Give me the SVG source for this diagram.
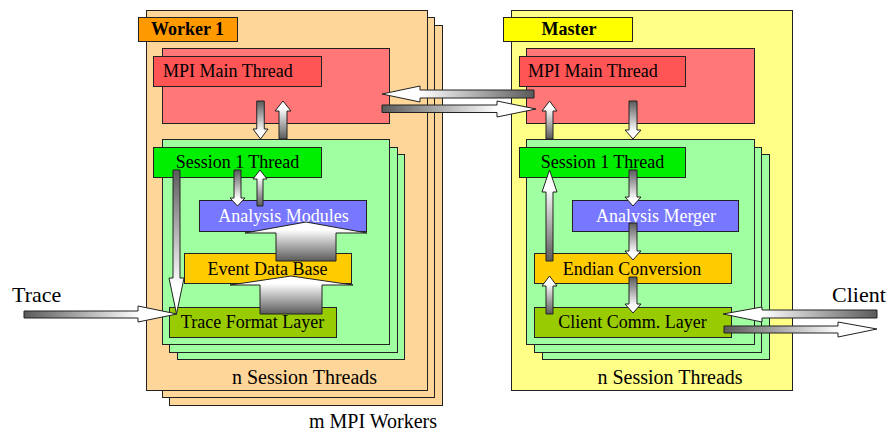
<svg xmlns="http://www.w3.org/2000/svg" width="887" height="432" viewBox="0 0 887 432">
<style>
text{font-family:"Liberation Serif","Times New Roman","DejaVu Serif","Noto Serif",serif;fill:#000}
.t{font-size:18px}
.tb{font-size:18px;font-weight:bold}
.tl{font-size:20px}
.tx{font-size:22px}
.w{fill:#fff}
.bx{stroke:#222;stroke-width:1}
.ar{stroke:#222;stroke-width:1;stroke-linejoin:miter}
.dn{fill:url(#gDown)}.up{fill:url(#gUp)}.rt{fill:url(#gRight)}.lt{fill:url(#gLeft)}
</style>
<defs>
<linearGradient id="gDown" x1="0" y1="0" x2="0" y2="1"><stop offset="0" stop-color="#5a5a5a"/><stop offset="0.8" stop-color="#fff"/></linearGradient>
<linearGradient id="gUp" x1="0" y1="1" x2="0" y2="0"><stop offset="0" stop-color="#5a5a5a"/><stop offset="0.8" stop-color="#fff"/></linearGradient>
<linearGradient id="gRight" x1="0" y1="0" x2="1" y2="0"><stop offset="0" stop-color="#5a5a5a"/><stop offset="0.75" stop-color="#fff"/></linearGradient>
<linearGradient id="gLeft" x1="1" y1="0" x2="0" y2="0"><stop offset="0" stop-color="#5a5a5a"/><stop offset="0.75" stop-color="#fff"/></linearGradient>
</defs>

<g id="worker">
<rect class="bx" x="169.5" y="25.5" width="273" height="380" fill="#ffd699"/>
<rect class="bx" x="162.5" y="17.5" width="272" height="380" fill="#ffd699"/>
<rect class="bx" x="146.5" y="10.5" width="281" height="380" fill="#ffd699"/>
<rect class="bx" x="138.5" y="17.5" width="99" height="24" fill="#ff9900"/>
<text class="tb" x="187.5" y="35" text-anchor="middle" font-family="Liberation Serif, serif">Worker 1</text>
<text class="tl" x="304.5" y="384" text-anchor="middle" font-family="Liberation Serif, serif">n Session Threads</text>
</g>
<g id="worker-mpi">
<rect class="bx" x="162.5" y="48.5" width="227" height="75" fill="#ff7777"/>
<rect class="bx" x="153.5" y="56.5" width="168" height="30" fill="#ff5555"/>
<text class="t" x="163" y="77" font-family="Liberation Serif, serif">MPI Main Thread</text>
</g>
<g id="worker-sessions">
<rect class="bx" x="177.5" y="154.5" width="227" height="205" fill="#a0ffa0"/>
<rect class="bx" x="169.5" y="147.5" width="228" height="205" fill="#a0ffa0"/>
<rect class="bx" x="162.5" y="139.5" width="227" height="205" fill="#a0ffa0"/>
</g>
<g id="worker-session1">
<rect class="bx" x="153.5" y="147.5" width="168" height="30" fill="#00ee00"/>
<text class="t" x="237.5" y="168" text-anchor="middle" font-family="Liberation Serif, serif">Session 1 Thread</text>
</g>
<g id="analysis-modules">
<rect class="bx" x="199.5" y="200.5" width="167" height="31" fill="#7777ff"/>
<text class="t w" x="283.5" y="222" text-anchor="middle" font-family="Liberation Serif, serif">Analysis Modules</text>
</g>
<g id="event-data-base">
<rect class="bx" x="184.5" y="253.5" width="167" height="30" fill="#ffcc00"/>
<text class="t" x="267.5" y="275" text-anchor="middle" font-family="Liberation Serif, serif">Event Data Base</text>
</g>
<g id="trace-format-layer">
<rect class="bx" x="169.5" y="307.5" width="167" height="30" fill="#99cc00"/>
<text class="t" x="252.5" y="328" text-anchor="middle" font-family="Liberation Serif, serif">Trace Format Layer</text>
</g>
<text class="tl" x="373" y="428" text-anchor="middle" font-family="Liberation Serif, serif">m MPI Workers</text>

<g id="master">
<rect class="bx" x="511.5" y="10.5" width="281" height="380" fill="#ffff88"/>
<rect class="bx" x="503.5" y="17.5" width="129" height="24" fill="#ffff00"/>
<text class="tb" x="569" y="35" text-anchor="middle" font-family="Liberation Serif, serif">Master</text>
<text class="tl" x="670" y="384" text-anchor="middle" font-family="Liberation Serif, serif">n Session Threads</text>
</g>
<g id="master-mpi">
<rect class="bx" x="526.5" y="48.5" width="228" height="75" fill="#ff7777"/>
<rect class="bx" x="519.5" y="56.5" width="166" height="30" fill="#ff5555"/>
<text class="t" x="528" y="77" font-family="Liberation Serif, serif">MPI Main Thread</text>
</g>
<g id="master-sessions">
<rect class="bx" x="542.5" y="154.5" width="227" height="205" fill="#a0ffa0"/>
<rect class="bx" x="534.5" y="147.5" width="227" height="205" fill="#a0ffa0"/>
<rect class="bx" x="526.5" y="139.5" width="228" height="205" fill="#a0ffa0"/>
</g>
<g id="master-session1">
<rect class="bx" x="519.5" y="147.5" width="166" height="30" fill="#00ee00"/>
<text class="t" x="602.5" y="168" text-anchor="middle" font-family="Liberation Serif, serif">Session 1 Thread</text>
</g>
<g id="analysis-merger">
<rect class="bx" x="572.5" y="200.5" width="166" height="31" fill="#7777ff"/>
<text class="t w" x="656" y="222" text-anchor="middle" font-family="Liberation Serif, serif">Analysis Merger</text>
</g>
<g id="endian-conversion">
<rect class="bx" x="534.5" y="253.5" width="197" height="30" fill="#ffcc00"/>
<text class="t" x="632" y="275" text-anchor="middle" font-family="Liberation Serif, serif">Endian Conversion</text>
</g>
<g id="client-comm-layer">
<rect class="bx" x="534.5" y="307.5" width="197" height="30" fill="#99cc00"/>
<text class="t" x="632.5" y="328" text-anchor="middle" font-family="Liberation Serif, serif">Client Comm. Layer</text>
</g>

<g id="labels">
<text class="tx" x="12" y="302" font-family="Liberation Serif, serif">Trace</text>
<text class="tx" x="832" y="302" font-family="Liberation Serif, serif">Client</text>
</g>

<g id="connectors">
<polygon class="ar dn" points="256.75,101 264.25,101 264.25,129 268,129 260.5,139 253,129 256.75,129"/>
<polygon class="ar up" points="279,139 287,139 287,111 291,111 283,101 275,111 279,111"/>
<polygon class="ar dn" points="234,170 241,170 241,198 245,198 237.5,206 230,198 234,198"/>
<polygon class="ar up" points="257,206 263,206 263,179 267,179 260,170 253,179 257,179"/>
<polygon class="ar dn" points="173,170 180,170 180,278 184,278 176.5,314 169,278 173,278"/>
<polygon class="ar up" points="276,261 276,233 245,233 306,222 367,233 336,233 336,261"/>
<polygon class="ar up" points="260,314 260,285 230,285 291,276 353,285 322,285 322,314"/>
<polygon class="ar lt" points="534,90 534,98 420,98 420,102 382,94 420,86 420,90"/>
<polygon class="ar rt" points="382,105 382,112.5 497,112.5 497,117 536,109 497,101 497,105"/>
<polygon class="ar rt" points="24,311 24,318 138,318 138,322 177,314 138,306 138,311"/>
<polygon class="ar up" points="546,139 553,139 553,111 557,111 549.5,101 542,111 546,111"/>
<polygon class="ar dn" points="629,101 637,101 637,130 641,130 633,139 625,130 629,130"/>
<polygon class="ar dn" points="629,170 637,170 637,197 641,197 633,206 625,197 629,197"/>
<polygon class="ar up" points="546,261 553,261 553,192 557,192 549.5,170 542,192 546,192"/>
<polygon class="ar up" points="546,314 553,314 553,286 557,286 549.5,276 542,286 546,286"/>
<polygon class="ar dn" points="629,223 637,223 637,251 641,251 633,260 625,251 629,251"/>
<polygon class="ar dn" points="629,277 637,277 637,304 641,304 633,313 625,304 629,304"/>
<polygon class="ar lt" points="877,310 877,318 762,318 762,322 723,314 762,307 762,310"/>
<polygon class="ar rt" points="724,326 724,333 838,333 838,337 877,329 838,322 838,326"/>
</g>
</svg>
